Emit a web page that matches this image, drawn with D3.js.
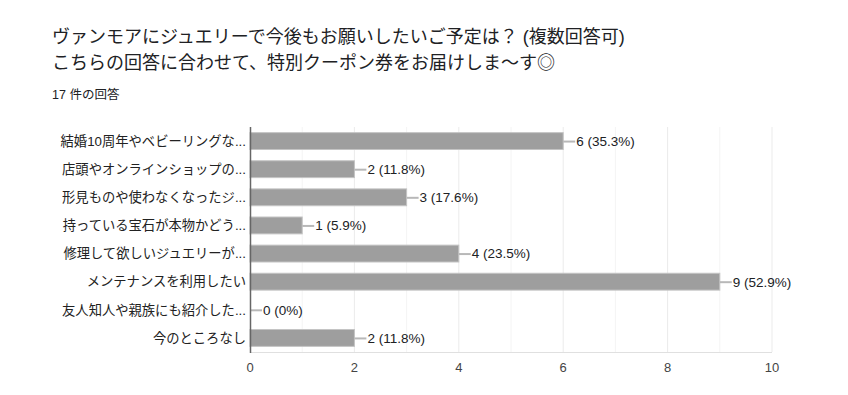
<!DOCTYPE html>
<html>
<head>
<meta charset="utf-8">
<script src="https://cdn.jsdelivr.net/npm/d3@7"></script>
<style>
  body { margin: 0; background: #fff; }
  svg { font-family: "Liberation Sans", Arial, "Noto Sans CJK JP", sans-serif; }
</style>
</head>
<body>
<script>
const titleLines = [
    "ヴァンモアにジュエリーで今後もお願いしたいご予定は？ (複数回答可)",
    "こちらの回答に合わせて、特別クーポン券をお届けしま〜す◎"
];
const responseCount = "17 件の回答";

const categories = [
    "結婚10周年やベビーリングな...",
    "店頭やオンラインショップの...",
    "形見ものや使わなくなったジ...",
    "持っている宝石が本物かどう...",
    "修理して欲しいジュエリーが...",
    "メンテナンスを利用したい",
    "友人知人や親族にも紹介した...",
    "今のところなし"
];
const counts = [6, 2, 3, 1, 4, 9, 0, 2];
const percents = ["35.3%", "11.8%", "17.6%", "5.9%", "23.5%", "52.9%", "0%", "11.8%"];
const xTicks = [0, 2, 4, 6, 8, 10];

const width = 848, height = 395;
const plotLeft = 250, plotRight = 772, plotTop = 127, plotBottom = 352;

const svg = d3.select("body")
    .append("svg")
    .attr("width", width)
    .attr("height", height);

// title
svg.append("g").selectAll("text")
    .data(titleLines)
    .enter()
    .append("text")
    .attr("x", 52)
    .attr("y", (d, i) => 43 + i * 26)
    .style("font-size", "18px")
    .style("fill", "#202124")
    .text(d => d);

svg.append("text")
    .attr("x", 52)
    .attr("y", 99)
    .style("font-size", "12.5px")
    .style("fill", "#202124")
    .text(responseCount);

const x = d3.scaleLinear().domain([0, 10]).range([plotLeft, plotRight]);
const y = d3.scaleBand().domain(categories).range([plotTop, plotBottom]).paddingInner(0.4).paddingOuter(0.2);

// gridlines (minor + major)
svg.append("g").selectAll("line")
    .data(d3.range(1, 11))
    .enter()
    .append("line")
    .attr("x1", d => x(d)).attr("x2", d => x(d))
    .attr("y1", plotTop).attr("y2", plotBottom)
    .style("stroke", d => d % 2 === 0 ? "#ebebeb" : "#f4f4f4")
    .style("stroke-width", 1);

// bottom baseline
svg.append("line")
    .attr("x1", plotLeft).attr("x2", plotRight)
    .attr("y1", plotBottom + 0.5).attr("y2", plotBottom + 0.5)
    .style("stroke", "#e0e0e0");

// bars
svg.append("g").selectAll("rect")
    .data(counts)
    .enter()
    .append("rect")
    .attr("x", x(0))
    .attr("y", (d, i) => y(categories[i]))
    .attr("width", d => x(d) - x(0))
    .attr("height", y.bandwidth())
    .style("fill", "#9e9e9e")
    .style("stroke", "#c4c4c4")
    .style("stroke-width", d => d > 0 ? 1 : 0);

// connector lines + value labels
const ann = svg.append("g").selectAll("g")
    .data(counts)
    .enter()
    .append("g")
    .attr("transform", (d, i) => `translate(${x(d)},${y(categories[i]) + y.bandwidth() / 2})`);

ann.append("line")
    .attr("x1", 0).attr("x2", 12)
    .attr("y1", 0.5).attr("y2", 0.5)
    .style("stroke", "#b8b8b8")
    .style("stroke-width", 2);

ann.append("text")
    .attr("x", 13)
    .attr("dy", "0.36em")
    .style("font-size", "13.5px")
    .style("fill", "#202124")
    .text((d, i) => `${d} (${percents[i]})`);

// left axis line
svg.append("line")
    .attr("x1", plotLeft + 0.5).attr("x2", plotLeft + 0.5)
    .attr("y1", plotTop).attr("y2", plotBottom + 1)
    .style("stroke", "#666")
    .style("stroke-width", 1.5);

// category labels
svg.append("g").selectAll("text")
    .data(categories)
    .enter()
    .append("text")
    .attr("x", plotLeft - 4)
    .attr("y", d => y(d) + y.bandwidth() / 2)
    .attr("dy", "0.36em")
    .attr("text-anchor", "end")
    .style("font-size", "13.3px")
    .style("fill", "#222")
    .text(d => d);

// x tick labels
svg.append("g").selectAll("text")
    .data(xTicks)
    .enter()
    .append("text")
    .attr("x", d => x(d))
    .attr("y", 372)
    .attr("text-anchor", "middle")
    .style("font-size", "13px")
    .style("fill", "#444")
    .text(d => d);
</script>
</body>
</html>
